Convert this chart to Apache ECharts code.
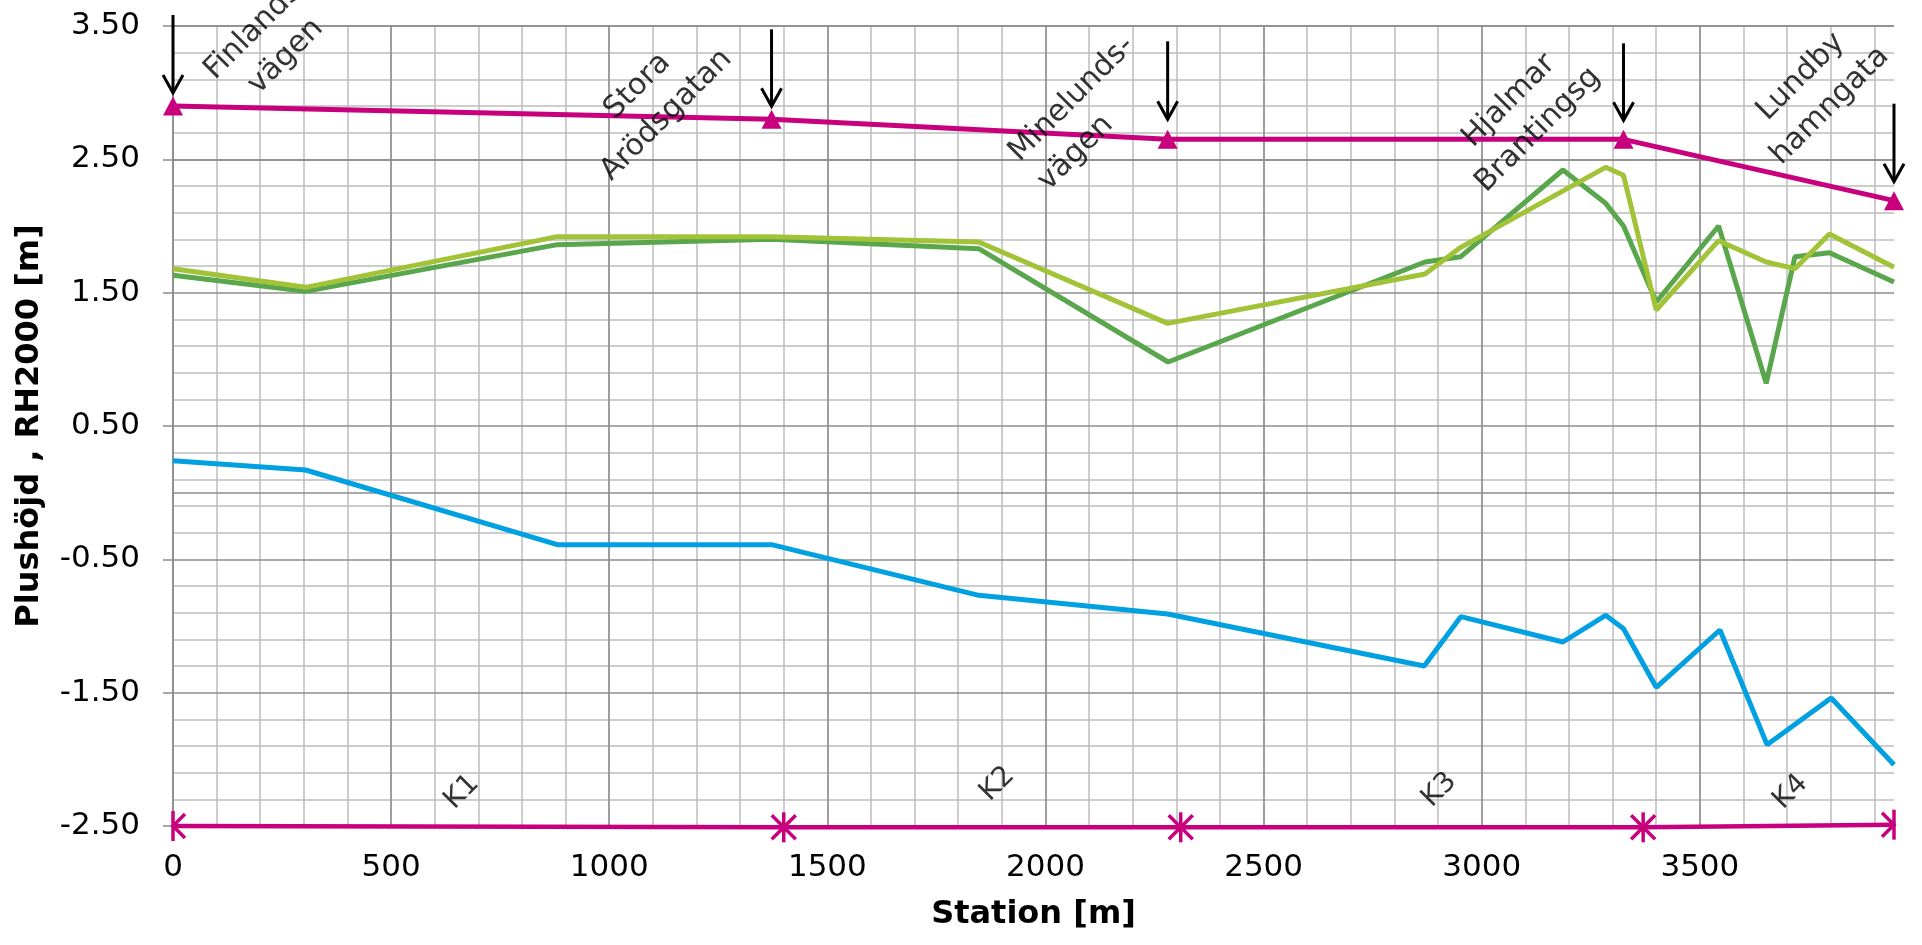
<!DOCTYPE html>
<html>
<head>
<meta charset="utf-8">
<script src="https://cdn.jsdelivr.net/npm/echarts@6/dist/echarts.min.js"></script>
<style>
html,body{margin:0;padding:0;background:#fff;}
#chart{width:1922px;height:945px;}
</style>
</head>
<body>
<div id="chart"></div>
<script>
// ---- Data ----
const xMax = 3945;

// Dark green profile
const dgStation = [0, 304, 881, 1372, 1847, 2281, 2870, 2952, 3186, 3284, 3325, 3400, 3543, 3652, 3718, 3797, 3945];
const dgLevel   = [1.63, 1.51, 1.86, 1.90, 1.83, 0.98, 1.73, 1.77, 2.42, 2.17, 2.00, 1.43, 2.00, 0.82, 1.77, 1.80, 1.58];

// Light green profile
const lgStation = [0, 304, 881, 1372, 1847, 2280, 2870, 2952, 3284, 3325, 3400, 3543, 3652, 3718, 3797, 3945];
const lgLevel   = [1.68, 1.54, 1.92, 1.92, 1.88, 1.27, 1.64, 1.84, 2.44, 2.38, 1.37, 1.89, 1.73, 1.68, 1.94, 1.69];

// Blue profile
const blStation = [0, 304, 881, 1372, 1847, 2280, 2868, 2952, 3186, 3284, 3325, 3400, 3546, 3654, 3801, 3945];
const blLevel   = [0.24, 0.17, -0.39, -0.39, -0.77, -0.91, -1.30, -0.93, -1.12, -0.92, -1.02, -1.46, -1.03, -1.89, -1.54, -2.04];

// Magenta crossing line (street crossings)
const roadStation = [0, 1372, 2280, 3325, 3945];
const roadLevel   = [2.90, 2.80, 2.65, 2.65, 2.19];

// Street names and where their labels sit
const streetNames = ['Finlands-\nvägen', 'Stora\nArödsgatan', 'Minelunds-\nvägen', 'Hjalmar\nBrantingsg', 'Lundby\nhamngata'];
const streetLabelStation = [225, 1098, 1961, 3096, 3765];
const streetLabelLevel   = [3.38, 2.94, 2.41, 2.83, 3.01];

// K sections along the bottom
const kStations = [0, 1400, 2310, 3370, 3945];
const kLevels   = [-2.50, -2.51, -2.51, -2.51, -2.49];
const kNames = ['K1', 'K2', 'K3', 'K4'];
const kLabelStation = [662, 1890, 2903, 3708];
const kLabelLevel   = [-2.245, -2.185, -2.23, -2.245];

// Axis tick settings
const xTickStep = 500, xMinorStep = 100;
const yMin = -2.5, yMax = 3.5, yTickStep = 1;

// ---- Styling ----
const FONT = 'DejaVu Sans';
const MAJOR = '#8c8c8c', MINOR = '#bdbdbd';
const MAG = '#c8007d', DG = '#59a64c', LG = '#a2c238', BLUE = '#00a0e1';
const arrowTipGap = [13, 13, 20, 19, 19];
const arrowTopGap = [91, 90, 98, 96, 97];
const streetAlign = ['center', 'center', 'left', 'center', 'center'];

const zip = (xs, ys) => xs.map((x, i) => [x, ys[i]]);

const chart = echarts.init(document.getElementById('chart'), null, {renderer: 'canvas'});

const option = {
  animation: false,
  backgroundColor: '#ffffff',
  grid: {left: 173, right: 28, top: 26, bottom: 119, containLabel: false, outerBoundsMode: 'none'},
  xAxis: [
    {
      type: 'value', position: 'bottom', min: 0, max: xMax, interval: xMinorStep, z: 0,
      axisLine: {show: false}, axisTick: {show: false}, axisLabel: {show: false},
      splitLine: {show: true, showMaxLine: false, lineStyle: {color: MINOR, width: 1.5}}
    },
    {
      type: 'value', position: 'bottom', min: 0, max: xMax, interval: xTickStep, z: 1,
      axisLine: {show: false}, axisTick: {show: false},
      axisLabel: {show: true, showMaxLabel: false, color: '#000', fontFamily: FONT, fontSize: 31, margin: 26,
                  formatter: v => String(v)},
      splitLine: {show: true, showMaxLine: false, lineStyle: {color: MAJOR, width: 1.5}},
      name: 'Station [m]', nameLocation: 'middle', nameGap: 73,
      nameTextStyle: {color: '#000', fontFamily: FONT, fontSize: 32, fontWeight: 'bold'}
    }
  ],
  yAxis: [
    {
      type: 'value', position: 'left', min: yMin, max: yMax, interval: yTickStep, z: 1,
      axisLine: {show: true, lineStyle: {color: MAJOR, width: 1.5}},
      axisTick: {show: true, length: 10, lineStyle: {color: MAJOR, width: 1.5}},
      axisLabel: {color: '#000', fontFamily: FONT, fontSize: 31, margin: 33, formatter: v => v.toFixed(2)},
      splitLine: {show: true, lineStyle: {color: MAJOR, width: 1.5}},
      minorTick: {show: false, splitNumber: 5},
      minorSplitLine: {show: true, lineStyle: {color: MINOR, width: 1.5}},
      name: 'Plushöjd , RH2000 [m]', nameLocation: 'middle', nameGap: 127, nameRotate: 90,
      nameTextStyle: {color: '#000', fontFamily: FONT, fontSize: 32, fontWeight: 'bold'}
    },
    {
      // zero reference line
      type: 'value', position: 'left', min: yMin, max: yMax, interval: 2.5, z: 1,
      axisLine: {show: false}, axisTick: {show: false}, axisLabel: {show: false},
      splitLine: {show: true, lineStyle: {color: MAJOR, width: 1.5}}
    }
  ],
  series: [
    {
      type: 'line', name: 'Blå', data: zip(blStation, blLevel), symbol: 'none', z: 3,
      lineStyle: {color: BLUE, width: 5}, itemStyle: {color: BLUE}
    },
    {
      type: 'line', name: 'Mörkgrön', data: zip(dgStation, dgLevel), symbol: 'none', z: 3,
      lineStyle: {color: DG, width: 5}, itemStyle: {color: DG}
    },
    {
      type: 'line', name: 'Ljusgrön', data: zip(lgStation, lgLevel), symbol: 'none', z: 4,
      lineStyle: {color: LG, width: 5}, itemStyle: {color: LG}
    },
    {
      type: 'line', name: 'Korsning', data: zip(roadStation, roadLevel), z: 5, clip: false,
      symbol: 'triangle', symbolSize: [20, 19], showAllSymbol: true,
      lineStyle: {color: MAG, width: 5}, itemStyle: {color: MAG}
    },
    {
      type: 'line', name: 'K', data: zip(kStations, kLevels), symbol: 'none', z: 5, clip: false,
      lineStyle: {color: MAG, width: 4.5}, itemStyle: {color: MAG}
    },
    {
      // section boundary markers
      type: 'custom', coordinateSystem: 'cartesian2d', clip: false, silent: true, z: 6,
      data: zip(kStations, kLevels),
      renderItem: (params, api) => {
        const i = params.dataIndex, n = kStations.length;
        const p = api.coord([api.value(0), api.value(1)]);
        const st = {stroke: MAG, lineWidth: 3.5, fill: null};
        const ch = [{type: 'line', shape: {x1: p[0], y1: p[1] - 15, x2: p[0], y2: p[1] + 15}, style: st}];
        if (i > 0) ch.push({type: 'polyline', shape: {points: [[p[0] - 12, p[1] - 12], [p[0], p[1]], [p[0] - 12, p[1] + 12]]}, style: st});
        if (i < n - 1) ch.push({type: 'polyline', shape: {points: [[p[0] + 12, p[1] - 12], [p[0], p[1]], [p[0] + 12, p[1] + 12]]}, style: st});
        return {type: 'group', children: ch};
      }
    },
    {
      // arrows pointing at crossings
      type: 'custom', coordinateSystem: 'cartesian2d', clip: false, silent: true, z: 10,
      data: zip(roadStation, roadLevel),
      renderItem: (params, api) => {
        const i = params.dataIndex;
        const p = api.coord([api.value(0), api.value(1)]);
        const x = p[0], tip = p[1] - arrowTipGap[i], top = p[1] - arrowTopGap[i];
        const st = {stroke: '#000', lineWidth: 3, fill: null};
        return {type: 'group', children: [
          {type: 'line', shape: {x1: x, y1: top, x2: x, y2: tip - 1}, style: st},
          {type: 'polyline', shape: {points: [[x - 10, tip - 18], [x, tip], [x + 10, tip - 18]]}, style: st}
        ]};
      }
    },
    {
      type: 'scatter', name: 'Gator', silent: true, clip: false, z: 12,
      symbolSize: 0,
      data: streetNames.map((nm, i) => ({name: nm, value: [streetLabelStation[i], streetLabelLevel[i]],
                                          label: {align: streetAlign[i]}})),
      label: {show: true, position: 'inside', formatter: '{b}', rotate: 45, color: '#000',
              fontFamily: FONT, fontSize: 30, lineHeight: 41, align: 'center', verticalAlign: 'middle'}
    },
    {
      type: 'scatter', name: 'K-etiketter', silent: true, clip: false, z: 12,
      symbolSize: 0,
      data: kNames.map((nm, i) => ({name: nm, value: [kLabelStation[i], kLabelLevel[i]]})),
      label: {show: true, position: 'inside', formatter: '{b}', rotate: 45, color: '#000',
              fontFamily: FONT, fontSize: 28, align: 'center', verticalAlign: 'middle'}
    }
  ]
};
chart.setOption(option);
</script>
</body>
</html>
